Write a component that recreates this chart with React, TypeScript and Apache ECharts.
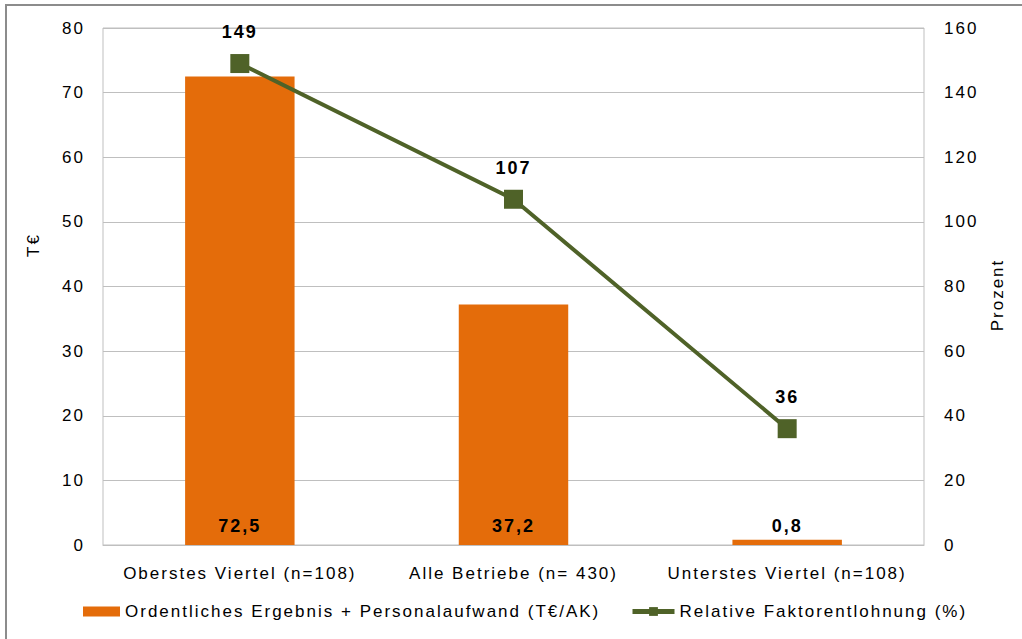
import React, { useEffect, useRef } from "react";
import * as echarts from "echarts";

const categories = ["Oberstes Viertel (n=108)", "Alle Betriebe (n= 430)", "Unterstes Viertel (n=108)"];
const barValues = [72.5, 37.2, 0.8];
const lineValues = [149, 107, 36];
const barName = "Ordentliches Ergebnis + Personalaufwand (T€/AK)";
const lineName = "Relative Faktorentlohnung (%)";
const leftAxisName = "T€";
const rightAxisName = "Prozent";

const FONT = "Liberation Sans, Arial, sans-serif";

export default function App() {
  const ref = useRef<HTMLDivElement>(null);
  useEffect(() => {
    const chart = echarts.init(ref.current!, null, { renderer: "svg" });
    chart.setOption({
      animation: false,
      backgroundColor: "#ffffff",
      textStyle: { fontFamily: FONT, color: "#000" },
      grid: {
        left: 103,
        right: 98,
        top: 28,
        bottom: 94,
        show: true,
        borderColor: "#BFBFBF",
        borderWidth: 1,
      },
      graphic: [
        {
          type: "line",
          shape: { x1: 6, y1: 5, x2: 1022, y2: 5 },
          style: { stroke: "#8C8C8C", lineWidth: 2 },
          silent: true,
        },
        {
          type: "line",
          shape: { x1: 6, y1: 4, x2: 6, y2: 639 },
          style: { stroke: "#8C8C8C", lineWidth: 2 },
          silent: true,
        },
        {
          type: "text",
          x: 33,
          y: 245,
          rotation: Math.PI / 2,
          style: {
            text: leftAxisName,
            align: "center",
            verticalAlign: "middle",
            fontSize: 17,
            fontFamily: FONT,
            fill: "#000",
          },
        },
        {
          type: "text",
          x: 997,
          y: 295,
          rotation: Math.PI / 2,
          style: {
            text: rightAxisName,
            align: "center",
            verticalAlign: "middle",
            fontSize: 17,
            fontFamily: FONT,
            fill: "#000",
          },
        },
      ],
      legend: [
        {
          left: 83,
          top: 603,
          padding: 0,
          itemWidth: 37,
          itemHeight: 10,
          textStyle: { fontSize: 17, fontFamily: FONT, color: "#000" },
          data: [{ name: barName, icon: "rect" }],
        },
        {
          left: 630,
          top: 603,
          padding: 0,
          itemWidth: 42,
          itemHeight: 11,
          lineStyle: { width: 5, color: "#4F6228" },
          textStyle: { fontSize: 17, fontFamily: FONT, color: "#000" },
          data: [{ name: lineName }],
        },
      ],
      xAxis: {
        type: "category",
        data: categories,
        axisLine: { show: true, lineStyle: { color: "#BFBFBF" } },
        axisTick: { show: false },
        axisLabel: { fontSize: 17, color: "#000", margin: 20, fontFamily: FONT },
      },
      yAxis: [
        {
          type: "value",
          min: 0,
          max: 80,
          interval: 10,
          axisLine: { show: false },
          axisTick: { show: false },
          axisLabel: { fontSize: 17, color: "#000", margin: 18, fontFamily: FONT },
          splitLine: { show: true, lineStyle: { color: "#BFBFBF" } },
        },
        {
          type: "value",
          min: 0,
          max: 160,
          interval: 20,
          axisLine: { show: false },
          axisTick: { show: false },
          axisLabel: { fontSize: 17, color: "#000", margin: 20, fontFamily: FONT },
          splitLine: { show: false },
        },
      ],
      series: [
        {
          name: barName,
          type: "bar",
          data: barValues,
          barWidth: "40%",
          itemStyle: { color: "#E46C0A" },
          label: {
            show: true,
            position: "insideBottom",
            distance: 10,
            fontSize: 18,
            fontWeight: "bold",
            color: "#000",
            fontFamily: FONT,
            formatter: (p: any) => String(p.value).replace(".", ","),
          },
        },
        {
          name: lineName,
          type: "line",
          yAxisIndex: 1,
          data: lineValues,
          symbol: "rect",
          symbolSize: 19,
          lineStyle: { color: "#4F6228", width: 4 },
          itemStyle: { color: "#4F6228" },
          label: {
            show: true,
            position: "top",
            distance: 13,
            fontSize: 18,
            fontWeight: "bold",
            color: "#000",
            fontFamily: FONT,
          },
        },
      ],
    });
    return () => chart.dispose();
  }, []);
  return (
    <div
      ref={ref}
      style={{ position: "absolute", left: 0, top: 0, width: 1022, height: 639, letterSpacing: "2px" }}
    />
  );
}
